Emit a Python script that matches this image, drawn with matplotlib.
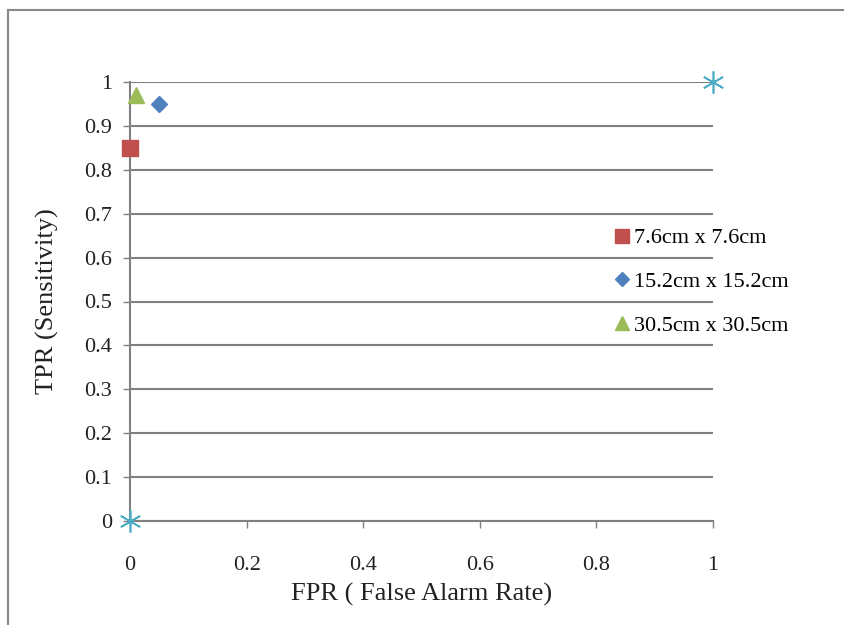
import matplotlib.pyplot as plt

plt.rcParams['font.family'] = ['Liberation Serif', 'DejaVu Serif']

# Operating points for each patch size (FPR, TPR)
labels = ['7.6cm x 7.6cm', '15.2cm x 15.2cm', '30.5cm x 30.5cm']
fpr = [0.0, 0.05, 0.01]
tpr = [0.85, 0.95, 0.97]
markers = ['s', 'D', '^']
colors = ['#C0504D', '#4F81BD', '#9BBB59']
sizes = [12, 8, 12]

# ROC corner points
ref_fpr = [0.0, 1.0]
ref_tpr = [0.0, 1.0]

fig = plt.figure(figsize=(8.45, 6.25), dpi=100)
ax = fig.add_axes([130 / 845, 1 - 521 / 625, 583 / 845, 439 / 625])

# Outer chart frame (left and top edges only)
fig.add_artist(plt.Line2D([8 / 845, 8 / 845], [0, 1 - 10 / 625], color='#888888', lw=1.5))
fig.add_artist(plt.Line2D([8 / 845, 1], [1 - 10 / 625, 1 - 10 / 625], color='#888888', lw=1.5))

ax.plot(ref_fpr, ref_tpr, linestyle='none', marker=(6, 2, 0), markersize=16,
        markeredgewidth=1.2, color='#4BACC6', clip_on=False, zorder=5)

for x, y, m, c, s, lab in zip(fpr, tpr, markers, colors, sizes, labels):
    ax.plot([x], [y], linestyle='none', marker=m, markersize=s, color=c,
            label=lab, clip_on=False, zorder=6)

ax.set_xlim(0, 1)
ax.set_ylim(0, 1)
ax.set_xticks([0, 0.2, 0.4, 0.6, 0.8, 1])
ax.set_xticklabels(['0', '0.2', '0.4', '0.6', '0.8', '1'])
ax.set_yticks([i / 10 for i in range(11)])
ax.set_yticklabels(['0', '0.1', '0.2', '0.3', '0.4', '0.5', '0.6', '0.7', '0.8', '0.9', '1'])

ax.yaxis.grid(True, color='#808080', linewidth=1.5)
ax.set_axisbelow(True)
for side in ['top', 'right']:
    ax.spines[side].set_visible(False)
for side in ['left', 'bottom']:
    ax.spines[side].set_color('#808080')
    ax.spines[side].set_linewidth(1.5)

ax.tick_params(axis='both', colors='#808080', labelcolor='#222222', labelsize=16,
               length=5, width=1)
ax.tick_params(axis='x', pad=20)
ax.tick_params(axis='y', pad=8)

ax.set_xlabel('FPR ( False Alarm Rate)', fontsize=19, color='#222222', labelpad=6)
ax.set_ylabel('TPR (Sensitivity)', fontsize=19, color='#222222', labelpad=18)

ax.legend(loc='center left', bbox_to_anchor=(604 / 845, 1 - 282 / 625),
          bbox_transform=fig.transFigure, frameon=False, fontsize=16,
          handlelength=0.6, handletextpad=0.25, labelspacing=1.05,
          borderpad=0, markerscale=0.85)

fig.savefig('out.png', dpi=100, facecolor='white')
